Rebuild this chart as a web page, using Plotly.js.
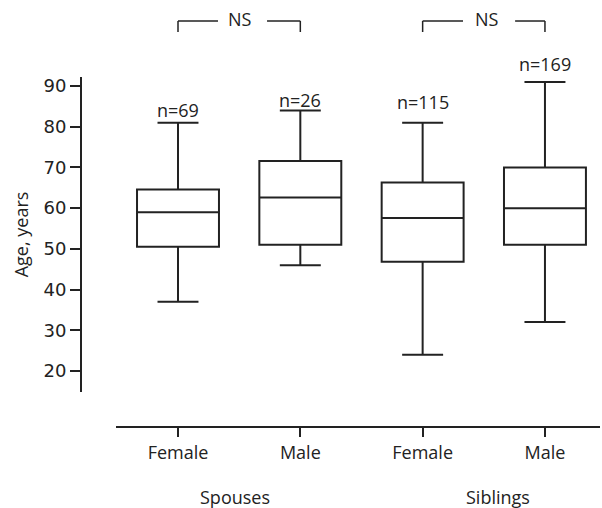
<!DOCTYPE html>
<html>
<head>
<meta charset="utf-8">
<script src="https://cdn.plot.ly/plotly-3.0.1.min.js"></script>
<style>html,body{margin:0;padding:0;background:#fff;}#chart{width:602px;height:508px;}</style>
</head>
<body>
<div id="chart"></div>
<script>
// ---- data ----
var categories = ["Female", "Male", "Female", "Male"];
var groups = ["Spouses", "Siblings"];
var lowerWhisker = [37, 46, 24, 32];
var q1Values = [50.5, 51, 46.8, 51];
var medianValues = [59, 62.6, 57.6, 60];
var q3Values = [64.6, 71.6, 66.3, 70];
var upperWhisker = [81, 84, 81, 91];
var sampleSizes = [69, 26, 115, 169];
var comparisonLabels = ["NS", "NS"];
var yTickValues = [20, 30, 40, 50, 60, 70, 80, 90];

var positions = categories.map(function (c, i) { return i; });
var ink = "#222222";
var txtFont = "Open Sans, Liberation Sans, sans-serif";

var trace = {
  type: "box",
  x: positions,
  q1: q1Values,
  median: medianValues,
  q3: q3Values,
  lowerfence: lowerWhisker,
  upperfence: upperWhisker,
  boxpoints: false,
  width: 0.67,
  whiskerwidth: 0.5,
  fillcolor: "#ffffff",
  line: { color: ink, width: 2 },
  hoverinfo: "skip",
  showlegend: false
};

var annotations = [];
var nShift = [13, 10, 21, 18];
sampleSizes.forEach(function (n, i) {
  annotations.push({
    x: positions[i], y: upperWhisker[i], xref: "x", yref: "y",
    text: "n=" + n, showarrow: false, yanchor: "middle", yshift: nShift[i],
    font: { family: txtFont, size: 18, color: ink }
  });
});
var groupX = [0.466, 2.62];
groups.forEach(function (g, i) {
  annotations.push({
    x: groupX[i], y: -0.165, xref: "x", yref: "paper",
    text: g, showarrow: false, yanchor: "middle",
    font: { family: txtFont, size: 18, color: ink }
  });
});

// brackets
var shapes = [];
var brackets = [
  { a: 0, b: 1, gapL: 0.327, gapR: 0.728, label: 0.507 },
  { a: 2, b: 3, gapL: 2.33, gapR: 2.756, label: 2.527 }
];
var yTop = 0.9508, yBot = 0.925;
brackets.forEach(function (br, i) {
  var ln = { color: ink, width: 1.5 };
  shapes.push({ type: "line", xref: "x", yref: "paper", x0: br.a, x1: br.a, y0: yBot, y1: yTop, line: ln });
  shapes.push({ type: "line", xref: "x", yref: "paper", x0: br.a, x1: br.gapL, y0: yTop, y1: yTop, line: ln });
  shapes.push({ type: "line", xref: "x", yref: "paper", x0: br.gapR, x1: br.b, y0: yTop, y1: yTop, line: ln });
  shapes.push({ type: "line", xref: "x", yref: "paper", x0: br.b, x1: br.b, y0: yBot, y1: yTop, line: ln });
  annotations.push({
    x: br.label, y: yTop, xref: "x", yref: "paper", text: comparisonLabels[i],
    showarrow: false, yanchor: "middle", yshift: 2,
    font: { family: txtFont, size: 18, color: ink }
  });
});

var layout = {
  width: 602, height: 508,
  margin: { l: 81, r: 2, t: 0, b: 81 },
  paper_bgcolor: "#ffffff", plot_bgcolor: "#ffffff",
  showlegend: false,
  xaxis: {
    domain: [0.0674, 1],
    anchor: "free", position: 0,
    range: [-0.507, 3.45],
    tickmode: "array", tickvals: positions, ticktext: categories,
    showline: true, linecolor: ink, linewidth: 2,
    ticks: "outside", ticklen: 9, tickwidth: 2, tickcolor: ink,
    showgrid: false, zeroline: false,
    tickfont: { family: txtFont, size: 18, color: ink }
  },
  yaxis: {
    domain: [0.082, 0.8197],
    anchor: "free", position: 0,
    range: [14.84, 92.21],
    tickmode: "array", tickvals: yTickValues,
    showline: true, linecolor: ink, linewidth: 2,
    ticks: "outside", ticklen: 10, tickwidth: 2, tickcolor: ink,
    showgrid: false, zeroline: false,
    tickfont: { family: "DejaVu Sans, sans-serif", size: 18, color: ink },
    title: { text: "Age, years", standoff: 9, font: { family: txtFont, size: 18, color: ink } }
  },
  shapes: shapes,
  annotations: annotations
};

Plotly.newPlot("chart", [trace], layout, { staticPlot: true, displayModeBar: false });
</script>
</body>
</html>
